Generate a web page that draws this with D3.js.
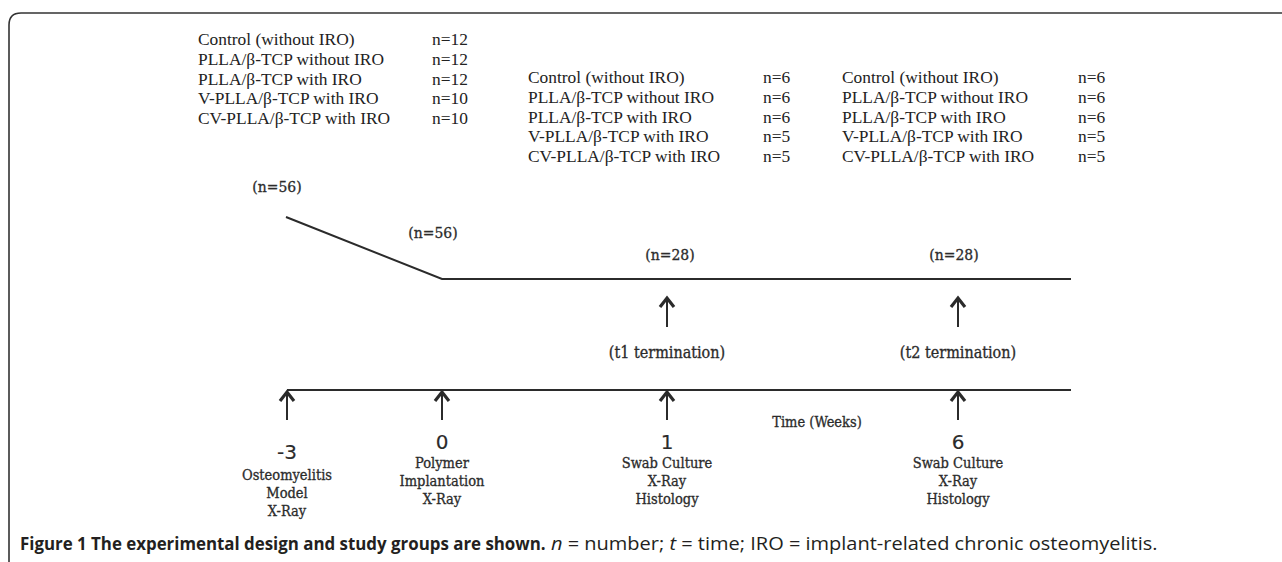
<!DOCTYPE html>
<html>
<head>
<meta charset="utf-8">
<script src="https://cdn.jsdelivr.net/npm/d3@7"></script>
<style>
  html, body { margin: 0; padding: 0; background: #fff; }
  svg { display: block; }
</style>
</head>
<body>
<svg id="chart" width="1282" height="562"></svg>
<script>
// ---------- DATA ----------
const groups = [
  "Control (without IRO)",
  "PLLA/β-TCP without IRO",
  "PLLA/β-TCP with IRO",
  "V-PLLA/β-TCP with IRO",
  "CV-PLLA/β-TCP with IRO"
];
const nTotal = [12, 12, 12, 10, 10];
const nT1 = [6, 6, 6, 5, 5];
const nT2 = [6, 6, 6, 5, 5];
const weeks = [-3, 0, 1, 6];
const weekLabels = ["-3", "0", "1", "6"];
const milestoneLabels = [
  ["Osteomyelitis", "Model", "X-Ray"],
  ["Polymer", "Implantation", "X-Ray"],
  ["Swab Culture", "X-Ray", "Histology"],
  ["Swab Culture", "X-Ray", "Histology"]
];
const cohortN = [56, 56, 28, 28];
const terminationWeeks = [1, 6];
const terminationLabels = ["(t1 termination)", "(t2 termination)"];
const axisTitle = "Time (Weeks)";
const captionBold = "Figure 1 The experimental design and study groups are shown.";

// ---------- LAYOUT ----------
const svg = d3.select("#chart");
const ink = "#2b2b2b";
const serifTL = "'DejaVu Serif', serif";

function heavy(sel, w) {
  return sel.attr("stroke", ink).attr("stroke-width", w).attr("paint-order", "stroke");
}

// piecewise time scale (non-uniform spacing as in the figure)
const x = d3.scaleLinear().domain(weeks).range([287, 442, 667, 958]);
const xEnd = 1071;
const yTop = 279, yBottom = 390;

// frame
svg.append("path")
  .attr("d", "M9,562 L9,25 Q9,13 21,13 L1282,13")
  .attr("fill", "none").attr("stroke", "#333").attr("stroke-width", 1.6);

// group tables
const rowY = d3.scalePoint().domain(d3.range(groups.length)).range([0, 79]);
const tables = [
  { x0: 198, nx: 432, y0: 39, vals: nTotal },
  { x0: 528, nx: 763, y0: 77, vals: nT1 },
  { x0: 842, nx: 1078, y0: 77, vals: nT2 }
];
tables.forEach(t => {
  const g = svg.append("g").attr("transform", `translate(0,${t.y0})`)
    .style("font-family", "'Liberation Serif', 'Times New Roman', serif")
    .style("font-size", "17.4px").attr("fill", "#222");
  g.selectAll("text.lab").data(groups).join("text")
    .attr("x", t.x0).attr("y", (d, i) => rowY(i)).attr("dy", "0.35em").text(d => d);
  g.selectAll("text.n").data(t.vals).join("text")
    .attr("x", t.nx).attr("y", (d, i) => rowY(i)).attr("dy", "0.35em").text(d => "n=" + d);
});

// cohort line (declining then flat)
const cohortLine = d3.line()([[x(-3) - 1, 217], [x(0), yTop], [xEnd, yTop]]);
svg.append("path").attr("d", cohortLine).attr("fill", "none")
  .attr("stroke", ink).attr("stroke-width", 2);

// cohort n labels
const nLabelPos = [[x(-3) - 10, 187], [x(0) - 9, 233], [x(1) + 3, 255], [x(6) - 4, 255]];
heavy(svg.selectAll("text.cohort").data(cohortN).join("text")
  .attr("x", (d, i) => nLabelPos[i][0]).attr("y", (d, i) => nLabelPos[i][1])
  .attr("dy", "0.35em").attr("text-anchor", "middle")
  .style("font-family", serifTL).style("font-size", "15.5px").style("font-stretch", "condensed")
  .attr("fill", ink).text(d => `(n=${d})`), 0.3);

// arrow helper
function arrow(g, cx, y1, y2) {
  g.append("line").attr("x1", cx).attr("x2", cx).attr("y1", y1 + 2).attr("y2", y2)
    .attr("stroke", ink).attr("stroke-width", 2);
  g.append("path").attr("d", `M${cx - 7},${y1 + 11} L${cx},${y1 + 2} L${cx + 7},${y1 + 11}`)
    .attr("fill", "none").attr("stroke", ink).attr("stroke-width", 3.2)
    .attr("stroke-linejoin", "miter");
}

// termination arrows + labels
const gT = svg.append("g");
terminationWeeks.forEach((w, i) => {
  arrow(gT, x(w), 296, 327);
  heavy(gT.append("text").attr("x", x(w)).attr("y", 352).attr("dy", "0.35em")
    .attr("text-anchor", "middle")
    .style("font-family", serifTL).style("font-size", "16px").style("font-stretch", "condensed")
    .attr("fill", ink).text(terminationLabels[i]), 0.3);
});

// time axis line
svg.append("line").attr("x1", x(-3)).attr("x2", xEnd).attr("y1", yBottom).attr("y2", yBottom)
  .attr("stroke", ink).attr("stroke-width", 2);

// milestone arrows, numbers, labels
const gM = svg.append("g");
weeks.forEach((w, i) => {
  arrow(gM, x(w), yBottom, 420);
  heavy(gM.append("text").attr("x", x(w)).attr("y", i === 0 ? 452 : 442).attr("dy", "0.35em")
    .attr("text-anchor", "middle")
    .style("font-family", "'DejaVu Sans', sans-serif").style("font-size", "20px")
    .attr("fill", ink).text(weekLabels[i]), 0.15);
  const startY = i === 0 ? 475 : 463;
  milestoneLabels[i].forEach((lab, j) => {
    heavy(gM.append("text").attr("x", x(w)).attr("y", startY + j * 18).attr("dy", "0.35em")
      .attr("text-anchor", "middle")
      .style("font-family", serifTL).style("font-size", "14.5px").style("font-stretch", "condensed")
      .attr("fill", ink).text(lab), 0.3);
  });
});

// axis title
heavy(svg.append("text").attr("x", 817).attr("y", 422).attr("dy", "0.35em").attr("text-anchor", "middle")
  .style("font-family", serifTL).style("font-size", "14.5px").style("font-stretch", "condensed")
  .attr("fill", ink).text(axisTitle), 0.3);

// caption: bold lead-in and regular remainder, each fitted to its extent
const capFont = "'Open Sans', 'Noto Sans', sans-serif";
function fitText(sel, x0, width) {
  const w = sel.node().getComputedTextLength();
  sel.attr("transform", `translate(${x0},0) scale(${width / w},1) translate(${-x0},0)`);
}
const capB = svg.append("text").attr("x", 20).attr("y", 550)
  .style("font-family", capFont).style("font-size", "18px").style("font-weight", "bold")
  .attr("fill", "#231f20").text(captionBold);
fitText(capB, 20, 526);
const capR = svg.append("text").attr("x", 551).attr("y", 550)
  .style("font-family", capFont).style("font-size", "18px")
  .attr("fill", "#231f20");
capR.append("tspan").style("font-style", "italic").text("n");
capR.append("tspan").text(" = number; ");
capR.append("tspan").style("font-style", "italic").text("t");
capR.append("tspan").text(" = time; IRO = implant-related chronic osteomyelitis.");
fitText(capR, 551, 607);
</script>
</body>
</html>
